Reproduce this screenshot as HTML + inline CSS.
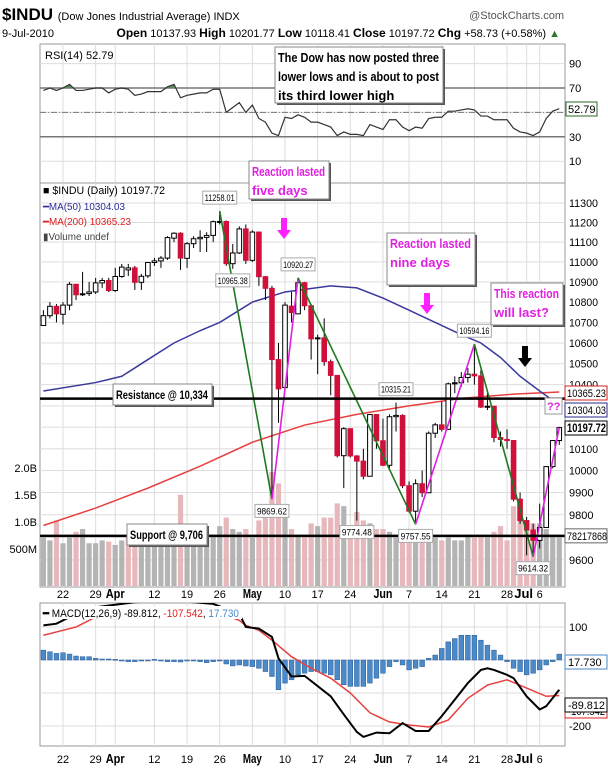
<!DOCTYPE html>
<html><head><meta charset="utf-8"><title>$INDU chart</title>
<style>
html,body{margin:0;padding:0;background:#fff;}
svg{display:block;font-family:"Liberation Sans Narrow","Liberation Sans",sans-serif;}
</style></head>
<body>
<svg id="chart" width="608" height="770" viewBox="0 0 608 770" xmlns="http://www.w3.org/2000/svg">
<defs>
<clipPath id="rsiClip"><rect x="40" y="44" width="525" height="139"/></clipPath>
<clipPath id="rsiAbove"><rect x="40" y="44" width="525" height="44"/></clipPath>
<clipPath id="mainClip"><rect x="40" y="183" width="525" height="404"/></clipPath>
<clipPath id="macdClip"><rect x="40" y="603" width="525" height="143"/></clipPath>
</defs>
<g id="header">
<text x="2" y="20" font-size="17" font-weight="bold">$INDU <tspan font-size="11" font-weight="normal">(Dow Jones Industrial Average) INDX</tspan></text>
<text x="564" y="19" font-size="11" fill="#555" text-anchor="end">@StockCharts.com</text>
<text x="2" y="37" font-size="11">9-Jul-2010</text>
<text x="560" y="37" font-size="11" text-anchor="end"><tspan font-weight="bold" font-size="12">Open</tspan> 10137.93 <tspan font-weight="bold" font-size="12">High</tspan> 10201.77 <tspan font-weight="bold" font-size="12">Low</tspan> 10118.41 <tspan font-weight="bold" font-size="12">Close</tspan> 10197.72 <tspan font-weight="bold" font-size="12">Chg</tspan> +58.73 (+0.58%) <tspan fill="#2a7a2a">▲</tspan></text>
</g>
<g id="rsiPanel"></g>
<g id="mainPanel"></g>
<g id="macdPanel"></g>
<g id="notes"></g>
</svg>
<script>
const dateLabels=["22","29","Apr","12","19","26","May","10","17","24","Jun","7","14","21","28","Jul","6"];
const dateLabelIdx=[3,8,11,17,22,27,32,37,42,47,52,56,61,66,71,74,76];
const openP=[10685,10733,10779,10740,10785,10888,10836,10842,10850,10895,10907,10857,10927,10960,10970,10898,10930,10997,11005,11019,11120,11145,11018,11092,11117,11124,11134,11204,11205,10991,11045,11167,11008,11151,10926,10868,10520,10386,10780,10742,10896,10782,10620,10625,10510,10444,10068,10193,10067,10043,9974,10259,10137,10024,10249,10255,9931,9816,9940,9899,10172,10211,10190,10404,10409,10434,10450,10442,10294,10298,10152,10143,10138,9870,9774,9732,9686,9743,10018,10138];
const highP=[10760,10800,10790,10800,10900,10890,10950,10900,10920,10920,10920,10970,10990,10990,10980,10940,11000,11020,11030,11130,11150,11150,11100,11130,11160,11150,11210,11258,11210,11090,11180,11190,11160,11151,10930,10880,10600,10800,10850,10920,10900,10790,10640,10720,10520,10444,10200,10193,10070,10100,10260,10260,10240,10260,10315,10260,9950,9960,10000,10180,10220,10320,10410,10440,10460,10480,10594,10470,10360,10300,10180,10190,10138,9900,9790,9760,9850,10020,10140,10202];
const lowP=[10685,10720,10700,10690,10760,10810,10830,10830,10840,10870,10850,10850,10920,10930,10860,10860,10920,10980,10970,11010,11100,10960,10970,11070,11050,11050,11100,11190,10980,10965,11040,10990,11000,10880,10810,9870,10220,10386,10700,10740,10760,10520,10450,10490,10350,10060,9920,10060,9774,9960,9974,10100,10020,10000,10180,9920,9810,9757,9880,9899,10150,10180,10190,10360,10390,10410,10400,10290,10280,10130,10110,10100,9860,9760,9620,9614,9650,9743,10010,10118];
const closeP=[10733,10779,10742,10785,10888,10836,10841,10850,10895,10907,10857,10927,10974,10970,10898,10928,10997,11005,11019,11123,11145,11019,11092,11117,11124,11134,11204,11205,10991,11045,11167,11008,11151,10926,10868,10520,10380,10785,10748,10896,10782,10620,10625,10510,10444,10068,10193,10067,10043,9974,10259,10137,10024,10249,10255,9931,9816,9940,9899,10172,10211,10190,10404,10409,10434,10450,10442,10294,10298,10152,10143,10138,9870,9774,9732,9686,9743,10018,10138,10198];
const volumeB=[0.85,0.8,1.15,0.75,0.85,0.95,1.0,0.75,0.75,0.8,0.78,0.72,0.8,0.85,0.9,0.85,0.9,0.95,1.05,0.85,1.0,1.6,1.05,0.95,0.85,0.85,0.9,1.05,1.2,1.0,0.95,1.0,0.85,1.15,1.3,2.0,1.8,1.2,1.0,0.9,0.85,1.1,1.05,1.2,1.2,1.45,1.4,0.95,1.3,1.15,1.1,1.0,1.0,0.95,0.85,0.85,0.9,1.0,0.95,1.0,0.85,0.8,0.85,0.8,0.8,0.9,0.85,0.85,0.85,0.95,1.05,0.8,1.4,1.3,1.15,1.1,1.1,1.0,0.9,0.85];
const ma50Idx=[0,8,12,16,20,24,27,32,37,44,48,52,56,60,64,67,70,73,76,79];
const ma50Val=[10370,10410,10440,10520,10600,10660,10700,10800,10850,10880,10870,10820,10760,10700,10640,10600,10530,10440,10370,10304];
const ma200Idx=[0,8,16,24,32,40,48,56,64,72,79];
const ma200Val=[9752,9830,9920,10020,10130,10210,10260,10300,10335,10355,10365];
const rsiVal=[68,70,68,70,73,68,68,69,70,70,66,69,70,69,64,65,67,67,67,71,73,62,64,65,66,66,69,69,50,54,58,50,56,45,42,33,31,46,45,48,46,42,42,40,38,31,34,32,32,31,40,38,36,44,44,38,35,38,37,45,46,46,51,51,52,53,52,47,47,44,44,44,37,34,33,31,34,45,51,53];
const macdIdx=[0,2,4,8,14,20,26,30,31,33,35,36,38,40,44,46,48,49,51,53,55,57,59,61,63,65,67,68,69,71,72,74,76,77,78,79];
const macdVal=[105,110,130,160,175,180,170,140,100,95,70,5,-50,-48,-110,-165,-218,-233,-220,-222,-191,-215,-215,-170,-120,-70,-30,-25,-30,-45,-55,-110,-150,-140,-115,-90];
const signalIdx=[0,3,5,8,14,20,26,30,31,33,35,38,41,44,47,50,53,56,59,62,65,68,71,74,77,79];
const signalVal=[75,90,100,130,150,155,150,120,105,90,60,10,-25,-55,-100,-160,-188,-197,-203,-182,-116,-76,-60,-85,-110,-107.5];
const histVal=[30,25,20,22,18,12,10,10,5,3,3,2,-3,-5,-5,-3,-3,2,-3,-5,-5,-6,-3,-3,-5,-8,-5,-2,-12,-18,-15,-18,-20,-25,-35,-50,-90,-70,-60,-45,-40,-35,-35,-40,-45,-60,-75,-80,-80,-80,-70,-55,-40,-20,-5,-15,-30,-25,-20,5,15,35,55,65,75,75,75,60,45,30,15,-5,-25,-35,-45,-40,-30,-15,-5,18];
const priceTicks=[11300,11200,11100,11000,10900,10800,10700,10600,10500,10400,10100,10000,9900,9800,9600];
const priceGrid=[11300,11200,11100,11000,10900,10800,10700,10600,10500,10400,10300,10200,10100,10000,9900,9800,9700,9600];
const rsiTicks=[90,70,30,10];
const macdTicks=[100,-200];
const volTicks=["2.0B","1.5B","1.0B","500M"];
const volTickVals=[2.0,1.5,1.0,0.5];
const trendFrom=[[27,11258],[35,9869.62],[39,10920.27],[57,9757.55],[66,10594.16],[75,9614.32]];
const trendTo=[[35,9869.62],[39,10920.27],[57,9757.55],[66,10594.16],[75,9614.32],[79,10198]];
const trendColor=["#1f7a1f","#e020e0","#1f7a1f","#e020e0","#1f7a1f","#e020e0"];
const pointLabels=["11258.01","10965.38","10920.27","10315.21","10594.16","9869.62","9774.48","9757.55","9614.32"];
const pointIdx=[27,29,39,54,66,35,48,57,75];
const pointPrice=[11258,10965,10920,10315,10594,9869,9774,9757,9614];
const pointAbove=[1,0,1,1,1,0,0,0,0];
const resistance=10334, support=9706;

const NS="http://www.w3.org/2000/svg";
function mk(parent,tag,attrs,txt){const e=document.createElementNS(NS,tag);for(const k in attrs)e.setAttribute(k,attrs[k]);if(txt!==undefined)e.textContent=txt;parent.appendChild(e);return e;}
function fit(t,w){try{if(t.getComputedTextLength()>w){t.setAttribute('textLength',w);t.setAttribute('lengthAdjust','spacingAndGlyphs');}}catch(e){}}
const X0=40,X1=565;
const xs=i=>43.4+i*6.53;
const yP=p=>203+(Math.log(11300)-Math.log(p))*2189;
const yR=v=>88+(70-v)*1.22;
const yM=v=>660-v*0.33;
const yV=v=>586-v*57;

// ---- RSI panel ----
const rsi=document.getElementById('rsiPanel');
let r=mk(rsi,'rect',{x:X0,y:44,width:X1-X0,height:139,fill:'#fff',stroke:'#999'});

dateLabelIdx.forEach(i=>{const l=mk(rsi,'line',{x1:xs(i),x2:xs(i),y1:44,y2:183,stroke:'#ddd'});});
[90,50,10].forEach(v=>{const l=mk(rsi,'line',{x1:X0,x2:X1,y1:yR(v),y2:yR(v),stroke:'#ddd'});});
[70,30].forEach(v=>{const l=mk(rsi,'line',{x1:X0,x2:X1,y1:yR(v),y2:yR(v),stroke:'#777','stroke-width':1.5});});
let l50=mk(rsi,'line',{x1:X0,x2:X1,y1:yR(50),y2:yR(50),stroke:'#777','stroke-dasharray':'6,2,1,2'});

let rpts=rsiVal.map((v,i)=>xs(i)+','+yR(v)).join(' ');
let rf=mk(rsi,'polygon',{points:xs(0)+','+yR(70)+' '+rpts+' '+xs(79)+','+yR(70),fill:'#5a8a5a','clip-path':'url(#rsiAbove)'});

let rl=mk(rsi,'polyline',{points:rpts,fill:'none',stroke:'#333','stroke-width':1.2});

let rt=mk(rsi,'text',{x:45,y:59,'font-size':11,'font-family':'Liberation Sans, sans-serif'},'RSI(14) 52.79');

rsiTicks.forEach(v=>{const t=mk(rsi,'text',{x:569,y:yR(v)+4,'font-size':11},String(v));});
let rb=mk(rsi,'rect',{x:566,y:yR(52.79)-7,width:31,height:14,fill:'#fff',stroke:'#2a6a2a'});

let rbt=mk(rsi,'text',{x:568,y:yR(52.79)+4,'font-size':11},'52.79');


// ---- main panel ----
const mp=document.getElementById('mainPanel');
r=mk(mp,'rect',{x:X0,y:183,width:X1-X0,height:404,fill:'#fff',stroke:'#999'});

dateLabelIdx.forEach(i=>{const l=mk(mp,'line',{x1:xs(i),x2:xs(i),y1:183,y2:587,stroke:'#ddd'});});
priceGrid.forEach(p=>{const l=mk(mp,'line',{x1:X0,x2:X1,y1:yP(p),y2:yP(p),stroke:'#ddd'});});
const gm=mk(mp,'g',{'clip-path':'url(#mainClip)'});
volumeB.forEach((v,i)=>{const down=i>0&&closeP[i]<closeP[i-1];const b=mk(gm,'rect',{x:xs(i)-2.6,y:yV(v),width:5.2,height:586-yV(v),fill:down?'#e6b8bc':'#b4b4b4'});});
let ma200=mk(gm,'polyline',{points:ma200Idx.map((i,k)=>xs(i)+','+yP(ma200Val[k])).join(' '),fill:'none',stroke:'#e84040','stroke-width':1.5});

let ma50=mk(gm,'polyline',{points:ma50Idx.map((i,k)=>xs(i)+','+yP(ma50Val[k])).join(' '),fill:'none',stroke:'#3a3a9a','stroke-width':1.5});

closeP.forEach((c,i)=>{const o=openP[i],x=xs(i);
 const w=mk(gm,'line',{x1:x,x2:x,y1:yP(highP[i]),y2:yP(lowP[i]),stroke:'#000','stroke-width':1});
 
 const up=c>=o;const top=yP(Math.max(o,c)),bot=yP(Math.min(o,c));
 const b=mk(gm,'rect',{x:x-2.3,y:top,width:4.6,height:Math.max(1,bot-top),fill:up?'#fff':'#d0103a',stroke:up?'#000':'#d0103a','stroke-width':1});
 });
trendFrom.forEach((f,k)=>{const t=trendTo[k];const l=mk(gm,'line',{x1:xs(f[0]),y1:yP(f[1]),x2:xs(t[0]),y2:yP(t[1]),stroke:trendColor[k],'stroke-width':1.6});});
[[resistance,'resistance-line'],[support,'support-line']].forEach(a=>{const l=mk(mp,'line',{x1:X0,x2:X1+6,y1:yP(a[0]),y2:yP(a[0]),stroke:'#000','stroke-width':2.5});});
pointLabels.forEach((s,k)=>{const x=xs(pointIdx[k]);const y=yP(pointPrice[k])+(pointAbove[k]?-13:12);
 const b=mk(mp,'rect',{x:x-17,y:y-7,width:34,height:13,fill:'#fff',stroke:'#aaa'});
 const t=mk(mp,'text',{x:x-15,y:y+3,'font-size':9.5},s);fit(t,30);});
priceTicks.forEach(p=>{const t=mk(mp,'text',{x:569,y:yP(p)+4,'font-size':11},String(p));fit(t,29);});
volTicks.forEach((s,k)=>{const t=mk(mp,'text',{x:37,y:[472,499,526,553][k],'font-size':11,'text-anchor':'end'},s);});
const boxes=[[10365.23,'10365.23','#d02020',0],[10304.03,'10304.03','#2a2a8a',0],[10197.72,'10197.72','#000',1]];
boxes.forEach((b,k)=>{const y=[393,410,428][k];const bx=mk(mp,'rect',{x:565,y:y-7,width:42,height:14,fill:'#fff',stroke:b[2]});
 const t=mk(mp,'text',{x:567,y:y+4,'font-size':b[3]?12:11,'font-weight':b[3]?'bold':'normal'},b[1]);fit(t,39);});
let vb=mk(mp,'rect',{x:565,y:yP(support)-7,width:42,height:14,fill:'#fff',stroke:'#666'});
let vt=mk(mp,'text',{x:567,y:yP(support)+4,'font-size':11},'78217868');fit(vt,40);
const leg=[['■ $INDU (Daily) 10197.72','#000',194],['━MA(50) 10304.03','#2a2a9a',210],['━MA(200) 10365.23','#e02020',225],['▮Volume undef','#444',240]];
leg.forEach((a,k)=>{const t=mk(mp,'text',{x:43,y:a[2],'font-size':k==0?11:10,fill:a[1],'font-family':k==0?'Liberation Sans, sans-serif':''},a[0]);fit(t,[122,82,88,66][k]);});
dateLabels.forEach((s,k)=>{const big=isNaN(+s);const t=mk(mp,'text',{x:xs(dateLabelIdx[k])+(s=='Jul'?-3:0),y:598,'font-size':big?13:11,'font-weight':big?'bold':'normal','text-anchor':'middle'},s);if(big)fit(t,19);});

// ---- MACD panel ----
const mc=document.getElementById('macdPanel');
r=mk(mc,'rect',{x:X0,y:603,width:X1-X0,height:143,fill:'#fff',stroke:'#999'});

dateLabelIdx.forEach(i=>{const l=mk(mc,'line',{x1:xs(i),x2:xs(i),y1:603,y2:746,stroke:'#ddd'});});
[100,0,-100,-200].forEach(v=>{const l=mk(mc,'line',{x1:X0,x2:X1,y1:yM(v),y2:yM(v),stroke:'#ddd'});});
const gc=mk(mc,'g',{'clip-path':'url(#macdClip)'});
histVal.forEach((v,i)=>{const y=Math.min(yM(v),yM(0));const b=mk(gc,'rect',{x:xs(i)-2.4,y:y,width:4.8,height:Math.max(1,Math.abs(yM(v)-yM(0))),fill:'#4a8ac8',stroke:'#2a5a98','stroke-width':0.5});});
let sg=mk(gc,'polyline',{points:signalIdx.map((i,k)=>xs(i)+','+yM(signalVal[k])).join(' '),fill:'none',stroke:'#e84040','stroke-width':1.5});

let ml=mk(gc,'polyline',{points:macdIdx.map((i,k)=>xs(i)+','+yM(macdVal[k])).join(' '),fill:'none',stroke:'#000','stroke-width':2});

let mlg=mk(mc,'rect',{x:42,y:606,width:200,height:13,fill:'#fff'});
let mt=mk(mc,'text',{x:43,y:617,'font-size':11,'font-family':'Liberation Sans, sans-serif'});
mt.innerHTML='<tspan font-weight="bold">━</tspan> MACD(12,26,9) -89.812, <tspan fill="#e02020">-107.542</tspan>, <tspan fill="#4a8ac8">17.730</tspan>';
fit(mt,196);
macdTicks.forEach(v=>{const t=mk(mc,'text',{x:569,y:yM(v)+4,'font-size':11},String(v));});
[[17.73,'17.730','#4a8ac8',662],[-107.542,'-107.542','#e02020',711],[-89.812,'-89.812','#000',705]].forEach(a=>{const bx=mk(mc,'rect',{x:565,y:a[3]-7,width:42,height:14,fill:'#fff',stroke:a[2]});const t=mk(mc,'text',{x:568,y:a[3]+4,'font-size':11},a[1]);fit(t,37);});
dateLabels.forEach((s,k)=>{const big=isNaN(+s);const t=mk(mc,'text',{x:xs(dateLabelIdx[k])+(s=='Jul'?-3:0),y:763,'font-size':big?13:11,'font-weight':big?'bold':'normal','text-anchor':'middle'},s);if(big)fit(t,19);});

// ---- annotations ----
const nt=document.getElementById('notes');
function note(x,y,w,h,lines,color,name,fs){const g=mk(nt,'g',{});
 mk(g,'rect',{x:x+2,y:y+2,width:w,height:h,fill:'#555'});mk(g,'rect',{x:x,y:y,width:w,height:h,fill:'#fff',stroke:'#888'});
 lines.forEach((s,k)=>{const t=mk(g,'text',{x:x+3,y:y+15+k*(fs+6),'font-size':fs,'font-weight':'bold',fill:color},s);fit(t,w-7);});}
note(275,47,168,56,['The Dow has now posted three','lower lows and is about to post','its third lower high'],'#000','dow-lower-lows-note',13);
note(249,161,80,38,['Reaction lasted','five days'],'#e020e0','five-days-note',13);
note(387,233,88,52,['Reaction lasted','nine days'],'#e020e0','nine-days-note',13);
note(491,283,72,42,['This reaction','will last?'],'#e020e0','this-reaction-note',13);
note(113,384,99,21,['Resistance @ 10,334'],'#000','resistance-label',12);
note(127,524,80,21,['Support @ 9,706'],'#000','support-label',12);
function arrow(x,y,c,name){const p=mk(nt,'polygon',{points:`${x-3},${y} ${x+3},${y} ${x+3},${y+12} ${x+7},${y+12} ${x},${y+21} ${x-7},${y+12} ${x-3},${y+12}`,fill:c});}
arrow(284,218,'#ff20ff','five-days-arrow');
arrow(427,293,'#ff20ff','nine-days-arrow');
arrow(525,346,'#000','next-reaction-arrow');
let qb=mk(nt,'rect',{x:545,y:398,width:17,height:16,fill:'#fff',stroke:'#999'});
let qt=mk(nt,'text',{x:547,y:410,'font-size':11,'font-weight':'bold',fill:'#e020e0'},'??');
</script>
</body></html>
